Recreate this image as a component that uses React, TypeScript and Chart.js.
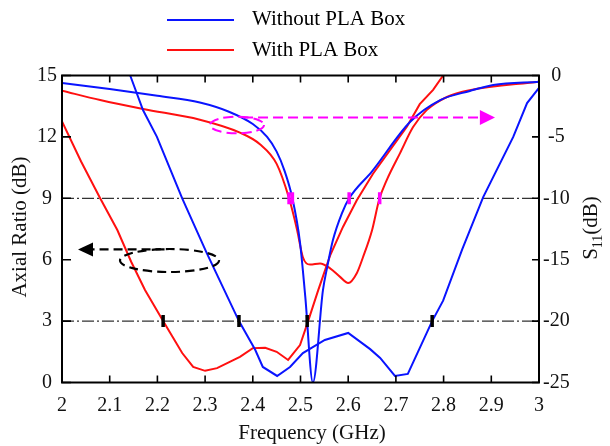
import React, { useEffect, useRef } from "react";
import { Chart, registerables } from "chart.js";

Chart.register(...registerables);

const FONT = "'Liberation Serif', 'Times New Roman', Times, serif";
Chart.defaults.font.family = FONT;

// Axial ratio (dB) – without PLA box (blue)
const arFreqWithout = [2.143, 2.17, 2.199, 2.252, 2.304, 2.371, 2.405, 2.421, 2.451, 2.478, 2.505, 2.551, 2.6, 2.646, 2.667, 2.698, 2.725, 2.776, 2.799, 2.839, 2.883, 2.946, 2.975, 3.0];
const arWithout = [15, 13.3, 12, 9, 6.3, 3, 1.6, 0.76, 0.32, 0.76, 1.44, 2.08, 2.42, 1.63, 1.2, 0.32, 0.42, 3.0, 4.0, 6.5, 9.06, 12.0, 13.65, 14.4];

// Axial ratio (dB) – with PLA box (red)
const arFreqWith = [2.0, 2.04, 2.08, 2.116, 2.145, 2.174, 2.212, 2.252, 2.275, 2.3, 2.325, 2.373, 2.4, 2.426, 2.45, 2.474, 2.499, 2.516, 2.537, 2.562, 2.589, 2.618, 2.652, 2.723, 2.75, 2.778, 2.799];
const arWith = [12.75, 10.8, 9.0, 7.45, 5.9, 4.52, 3.0, 1.44, 0.76, 0.57, 0.7, 1.25, 1.68, 1.7, 1.5, 1.1, 1.83, 3.0, 4.5, 6.2, 7.6, 8.9, 10.2, 12.5, 13.6, 14.3, 15];

// S11 (dB) – without PLA box (blue)
const s11FreqWithout = [2.0, 2.1, 2.2, 2.289, 2.35, 2.4, 2.43, 2.45, 2.466, 2.483, 2.499, 2.51, 2.526, 2.547, 2.556, 2.568, 2.587, 2.602, 2.65, 2.73, 2.793, 2.855, 2.904, 3.0];
const s11Without = [-0.6, -1.1, -1.65, -2.2, -2.95, -3.95, -5.0, -6.2, -7.7, -10, -13.6, -18, -25, -17.5, -15.6, -13.4, -11.2, -10, -7.8, -3.76, -2.0, -1.26, -0.77, -0.5];

// S11 (dB) – with PLA box (red)
const s11FreqWith = [2.0, 2.08, 2.17, 2.289, 2.373, 2.415, 2.45, 2.476, 2.493, 2.505, 2.52, 2.541, 2.562, 2.583, 2.6, 2.618, 2.631, 2.65, 2.665, 2.681, 2.709, 2.736, 2.765, 2.807, 2.855, 3.0];
const s11With = [-1.24, -2.0, -2.73, -3.6, -4.65, -5.6, -7.2, -10, -12.6, -14.8, -15.4, -15.3, -15.7, -16.4, -16.9, -16.1, -14.8, -12.6, -10.1, -8.5, -6.3, -4.2, -2.8, -1.75, -1.2, -0.5];

// Reference levels and bandwidth markers
const arRefLevels = [9, 3];
const arMarkLevel = 3;
const arMarkFreq = [2.212, 2.371, 2.514, 2.776];
const s11MarkLevel = -10;
const s11MarkFreq = [2.476, 2.483, 2.602, 2.666];

// Tick values
const xTickValues = [2, 2.1, 2.2, 2.3, 2.4, 2.5, 2.6, 2.7, 2.8, 2.9, 3];
const arTickValues = [0, 3, 6, 9, 12, 15];
const s11TickValues = [-25, -20, -15, -10, -5, 0];

const legendLabels = ["Without PLA Box", "With PLA Box"];
const BLUE = "#0a14ff";
const RED = "#ff1010";
const MAGENTA = "#ff00ff";

const pts = (xs: number[], ys: number[]) => xs.map((x, i) => ({ x, y: ys[i] }));

const decorPlugin = {
  id: "decor",
  afterDraw(chart: any) {
    const { ctx, chartArea: a, scales } = chart;
    const sx = scales.x, sy = scales.y, s2 = scales.y2;
    ctx.save();

    // frame
    ctx.strokeStyle = "#000";
    ctx.lineWidth = 2;
    ctx.setLineDash([]);
    ctx.strokeRect(a.left, a.top, a.right - a.left, a.bottom - a.top);

    // inward ticks
    ctx.lineWidth = 1.6;
    ctx.beginPath();
    xTickValues.forEach((v) => {
      const px = sx.getPixelForValue(v);
      ctx.moveTo(px, a.bottom);
      ctx.lineTo(px, a.bottom - 7);
      ctx.moveTo(px, a.top);
      ctx.lineTo(px, a.top + 7);
    });
    arTickValues.forEach((v) => {
      const py = sy.getPixelForValue(v);
      ctx.moveTo(a.left, py);
      ctx.lineTo(a.left + 9, py);
    });
    s11TickValues.forEach((v) => {
      const py = s2.getPixelForValue(v);
      ctx.moveTo(a.right, py);
      ctx.lineTo(a.right - 7, py);
    });
    ctx.stroke();

    // black ellipse + arrow (AR -> left axis)
    const bcx = sx.getPixelForValue(2.2254);
    const bcy = sy.getPixelForValue(5.96);
    const brx = sx.getPixelForValue(2.1038) - sx.getPixelForValue(2.0);
    const bry = sy.getPixelForValue(0) - sy.getPixelForValue(0.562);
    ctx.strokeStyle = "#000";
    ctx.fillStyle = "#000";
    ctx.lineWidth = 2.2;
    ctx.setLineDash([9, 5]);
    ctx.beginPath();
    ctx.ellipse(bcx, bcy, brx, bry, 0, 0, Math.PI * 2);
    ctx.stroke();
    const bay = sy.getPixelForValue(6.5);
    const btip = sx.getPixelForValue(2.0335);
    const bbase = sx.getPixelForValue(2.065);
    ctx.beginPath();
    ctx.moveTo(sx.getPixelForValue(2.215), bay);
    ctx.lineTo(bbase, bay);
    ctx.stroke();
    ctx.setLineDash([]);
    ctx.beginPath();
    ctx.moveTo(btip, bay);
    ctx.lineTo(bbase, bay - 7);
    ctx.lineTo(bbase, bay + 7);
    ctx.closePath();
    ctx.fill();

    // magenta ellipse + arrow (S11 -> right axis)
    const mcx = sx.getPixelForValue(2.3669);
    const mcy = s2.getPixelForValue(-4.03);
    const mrx = sx.getPixelForValue(2.0566) - sx.getPixelForValue(2.0);
    const mry = s2.getPixelForValue(-0.676) - s2.getPixelForValue(0);
    ctx.strokeStyle = MAGENTA;
    ctx.fillStyle = MAGENTA;
    ctx.lineWidth = 2;
    ctx.setLineDash([10, 5]);
    ctx.beginPath();
    ctx.ellipse(mcx, mcy, mrx, mry, 0, 0, Math.PI * 2);
    ctx.stroke();
    const may = s2.getPixelForValue(-3.42);
    const mtip = sx.getPixelForValue(2.9078);
    const mbase = sx.getPixelForValue(2.876);
    ctx.beginPath();
    ctx.moveTo(sx.getPixelForValue(2.3795), may);
    ctx.lineTo(mbase, may);
    ctx.stroke();
    ctx.setLineDash([]);
    ctx.beginPath();
    ctx.moveTo(mtip, may);
    ctx.lineTo(mbase, may - 7.5);
    ctx.lineTo(mbase, may + 7.5);
    ctx.closePath();
    ctx.fill();

    // legend
    ctx.lineWidth = 2;
    const legY = [20, 50];
    const legBase = [25, 56];
    const colors = [BLUE, RED];
    ctx.font = `21px ${FONT}`;
    ctx.textAlign = "left";
    ctx.textBaseline = "alphabetic";
    legendLabels.forEach((lab, i) => {
      ctx.strokeStyle = colors[i];
      ctx.beginPath();
      ctx.moveTo(167, legY[i]);
      ctx.lineTo(234, legY[i]);
      ctx.stroke();
      ctx.fillStyle = "#000";
      ctx.fillText(lab, 252, legBase[i]);
    });

    // axis titles
    ctx.fillStyle = "#111";
    ctx.font = `21px ${FONT}`;
    ctx.textAlign = "center";
    ctx.fillText("Frequency (GHz)", 312, 439);

    ctx.save();
    ctx.translate(26, 227);
    ctx.rotate(-Math.PI / 2);
    ctx.fillText("Axial Ratio (dB)", 0, 0);
    ctx.restore();

    ctx.save();
    ctx.translate(597, 228);
    ctx.rotate(-Math.PI / 2);
    ctx.textAlign = "left";
    ctx.font = `21px ${FONT}`;
    const wS = ctx.measureText("S").width;
    const wP = ctx.measureText("(dB)").width;
    ctx.font = `14px ${FONT}`;
    const w11 = ctx.measureText("11").width;
    const total = wS + w11 + wP;
    let cx = -total / 2;
    ctx.font = `21px ${FONT}`;
    ctx.fillText("S", cx, 0);
    cx += wS;
    ctx.font = `14px ${FONT}`;
    ctx.fillText("11", cx, 5);
    cx += w11;
    ctx.font = `21px ${FONT}`;
    ctx.fillText("(dB)", cx, 0);
    ctx.restore();

    ctx.restore();
  },
};

export default function App() {
  const ref = useRef<HTMLCanvasElement | null>(null);

  useEffect(() => {
    if (!ref.current) return;
    const markerBase = {
      type: "line" as const,
      showLine: false,
      pointStyle: "line",
      pointRotation: 90,
      pointRadius: 6,
      pointBorderWidth: 3.5,
    };
    const tickFont = { family: FONT, size: 20 };
    const chart = new Chart(ref.current, {
      type: "line",
      data: {
        datasets: [
          {
            ...markerBase,
            data: arMarkFreq.map((x) => ({ x, y: arMarkLevel })),
            yAxisID: "y",
            borderColor: "#000",
            pointBorderColor: "#000",
            order: 0,
          } as any,
          {
            ...markerBase,
            data: s11MarkFreq.map((x) => ({ x, y: s11MarkLevel })),
            yAxisID: "y2",
            borderColor: MAGENTA,
            pointBorderColor: MAGENTA,
            order: 0,
          } as any,
          {
            data: pts(arFreqWithout, arWithout),
            yAxisID: "y",
            borderColor: BLUE,
            borderWidth: 2,
            pointRadius: 0,
            tension: 0,
            order: 2,
          },
          {
            data: pts(s11FreqWithout, s11Without),
            yAxisID: "y2",
            borderColor: BLUE,
            borderWidth: 2,
            pointRadius: 0,
            cubicInterpolationMode: "monotone",
            order: 2,
          },
          {
            data: pts(arFreqWith, arWith),
            yAxisID: "y",
            borderColor: RED,
            borderWidth: 2,
            pointRadius: 0,
            tension: 0,
            order: 3,
          },
          {
            data: pts(s11FreqWith, s11With),
            yAxisID: "y2",
            borderColor: RED,
            borderWidth: 2,
            pointRadius: 0,
            cubicInterpolationMode: "monotone",
            order: 3,
          },
          ...arRefLevels.map((lvl) => ({
            data: [
              { x: xTickValues[0], y: lvl },
              { x: xTickValues[xTickValues.length - 1], y: lvl },
            ],
            yAxisID: "y",
            borderColor: "#333",
            borderWidth: 1.3,
            borderDash: [12, 3, 2, 3],
            pointRadius: 0,
            order: 5,
          })),
        ],
      },
      options: {
        responsive: false,
        animation: false,
        devicePixelRatio: 1,
        layout: { padding: { top: 75.5, left: 0, right: 0, bottom: 0 } },
        plugins: { legend: { display: false }, tooltip: { enabled: false } },
        scales: {
          x: {
            type: "linear",
            min: 2,
            max: 3,
            grid: { display: false, drawTicks: false },
            border: { display: false },
            afterBuildTicks: (s: any) => {
              s.ticks = xTickValues.map((v) => ({ value: v }));
            },
            afterFit: (s: any) => {
              s.height = 63.5;
            },
            ticks: {
              font: tickFont,
              color: "#111",
              padding: 11,
              maxRotation: 0,
              autoSkip: false,
              callback: (v: any) => String(Number(Number(v).toFixed(1))),
            },
          },
          y: {
            type: "linear",
            position: "left",
            min: 0,
            max: 15,
            grid: { display: false, drawTicks: false },
            border: { display: false },
            afterBuildTicks: (s: any) => {
              s.ticks = arTickValues.map((v) => ({ value: v }));
            },
            afterFit: (s: any) => {
              s.width = 62;
            },
            ticks: {
              font: tickFont,
              color: "#111",
              padding: 5,
              crossAlign: "center",
            },
          },
          y2: {
            type: "linear",
            position: "right",
            min: -25,
            max: 0,
            grid: { display: false, drawTicks: false },
            border: { display: false },
            afterBuildTicks: (s: any) => {
              s.ticks = s11TickValues.map((v) => ({ value: v }));
            },
            afterFit: (s: any) => {
              s.width = 71;
            },
            ticks: {
              font: tickFont,
              color: "#111",
              padding: 4,
              crossAlign: "center",
            },
          },
        },
      } as any,
      plugins: [decorPlugin],
    });
    return () => chart.destroy();
  }, []);

  return (
    <div style={{ position: "absolute", left: 0, top: 0, width: 610, height: 446, background: "#fff" }}>
      <canvas ref={ref} width={610} height={446} style={{ display: "block" }} />
    </div>
  );
}
